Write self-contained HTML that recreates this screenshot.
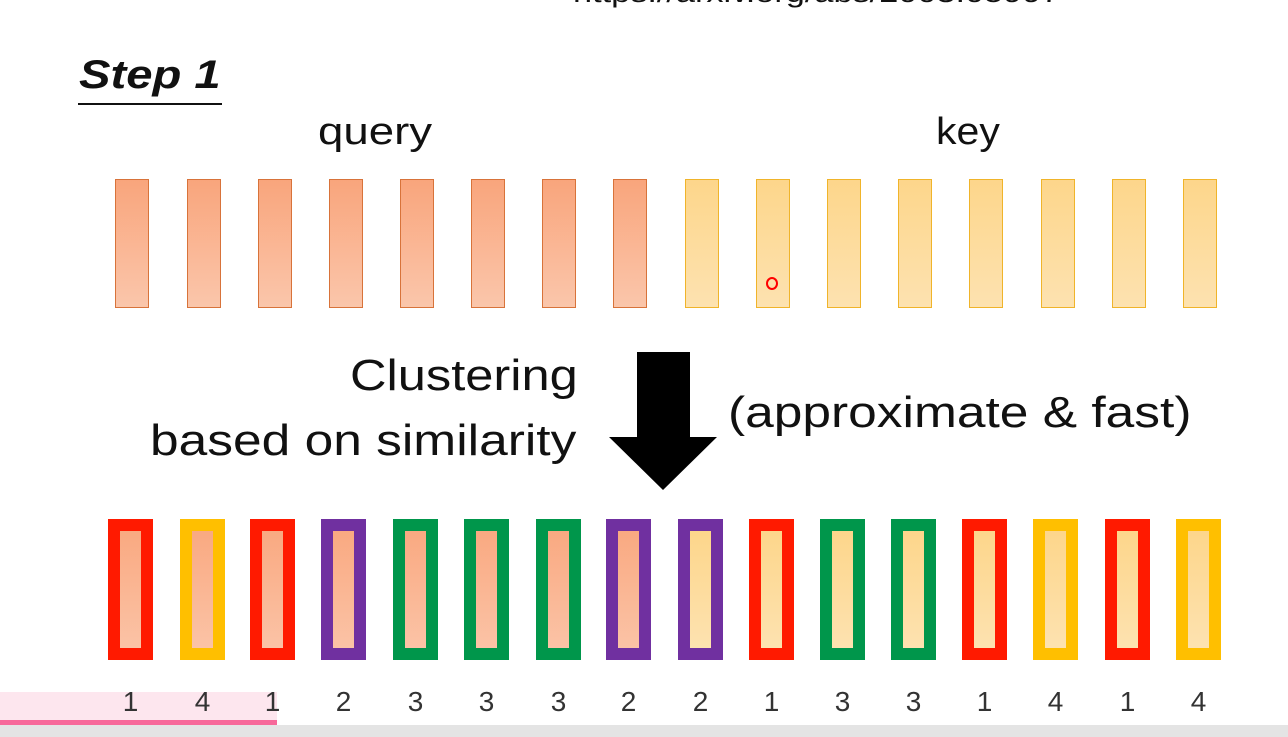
<!DOCTYPE html>
<html><head><meta charset="utf-8"><style>
body{margin:0;width:1288px;height:737px;background:#fff;position:relative;overflow:hidden;font-family:"Liberation Sans",sans-serif;color:#111}
.t{position:absolute;white-space:nowrap;line-height:1;transform-origin:left top}
.q{position:absolute;top:179px;width:32px;height:127px;border:1px solid #d8733a;background:linear-gradient(#f9a57c,#fac6ab)}
.k{position:absolute;top:179px;width:32px;height:127px;border:1px solid #f0b42a;background:linear-gradient(#fdd68b,#fde2b0)}
.b{position:absolute;top:519px;width:21px;height:117px;border:12px solid}
.n{position:absolute;top:686px;width:45px;text-align:center;font-size:28px;color:#333}
</style></head><body>
<div style="position:absolute;left:0;top:692px;width:277px;height:30px;background:#fde6ee"></div>
<div class="t" style="left:573px;top:-20px;font-size:27px;transform:scaleX(1.27)">https://arxiv.org/abs/2003.05997</div>
<div class="t" style="left:79px;top:55px;font-size:40px;font-weight:bold;font-style:italic;transform:scaleX(1.18)">Step 1</div>
<div style="position:absolute;left:78px;top:103px;width:144px;height:2px;background:#111"></div>
<div class="t" style="left:318px;top:113px;font-size:38px;transform:scaleX(1.2)">query</div>
<div class="t" style="left:936px;top:113px;font-size:38px;transform:scaleX(1.08)">key</div>
<div id="top"></div>
<div style="position:absolute;left:766px;top:277px;width:8px;height:9px;border:2px solid #f00;border-radius:50%;"></div>
<div class="t" style="left:350px;top:354px;font-size:44px;transform:scaleX(1.15)">Clustering</div>
<div class="t" style="left:150px;top:419px;font-size:44px;transform:scaleX(1.17)">based on similarity</div>
<div class="t" style="left:728px;top:391px;font-size:44px;transform:scaleX(1.17)">(approximate &amp; fast)</div>
<svg style="position:absolute;left:0;top:0" width="1288" height="737"><polygon points="637,352 690,352 690,437 717,437 663,490 609,437 637,437" fill="#000"/></svg>
<div id="bot"></div>
<div style="position:absolute;left:0;top:725px;width:1288px;height:12px;background:#e4e4e4"></div>
<div style="position:absolute;left:0;top:720px;width:277px;height:5px;background:#f7699a"></div>
<script>
var tx=[115,187,258,329,400,471,542,613,685,756,827,898,969,1041,1112,1183];
var h='';tx.forEach(function(x,i){h+='<div class="'+(i<8?'q':'k')+'" style="left:'+x+'px"></div>';});
document.getElementById('top').innerHTML=h;
var bx=[108,180,250,321,393,464,536,606,678,749,820,891,962,1033,1105,1176];
var c={1:'#ff1a00',2:'#7030a0',3:'#00964b',4:'#ffbf00'};
var n=[1,4,1,2,3,3,3,2,2,1,3,3,1,4,1,4];
h='';bx.forEach(function(x,i){var f=i<8?'linear-gradient(#f9a981,#fbc3a6)':'linear-gradient(#fdd68b,#fde2b0)';
h+='<div class="b" style="left:'+x+'px;border-color:'+c[n[i]]+';background:'+f+'"></div><div class="n" style="left:'+x+'px">'+n[i]+'</div>';});
document.getElementById('bot').innerHTML=h;
</script>
</body></html>
